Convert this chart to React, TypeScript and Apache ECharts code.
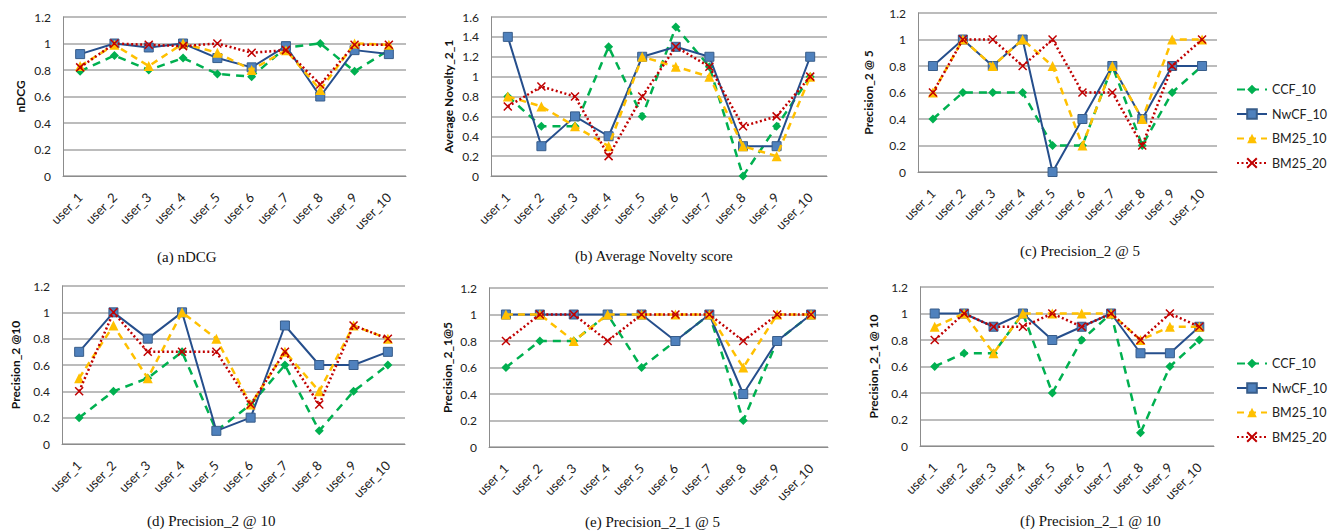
import React, { useEffect, useRef } from "react";
import * as echarts from "echarts";

const categories = ["user_1", "user_2", "user_3", "user_4", "user_5", "user_6", "user_7", "user_8", "user_9", "user_10"];
const seriesNames = ["CCF_10", "NwCF_10", "BM25_10", "BM25_20"];

// (a) nDCG
const ndcgCCF = [0.79, 0.91, 0.8, 0.89, 0.77, 0.75, 0.97, 1.0, 0.79, 0.95];
const ndcgNwCF = [0.92, 1.0, 0.97, 1.0, 0.89, 0.82, 0.98, 0.6, 0.95, 0.92];
const ndcgBM10 = [0.83, 0.99, 0.83, 1.0, 0.93, 0.8, 0.95, 0.65, 1.0, 0.99];
const ndcgBM20 = [0.82, 1.0, 0.99, 0.98, 1.0, 0.93, 0.95, 0.69, 0.99, 0.99];

// (b) Average Novelty
const novCCF = [0.8, 0.5, 0.5, 1.3, 0.6, 1.5, 1.1, 0, 0.5, 1.0];
const novNwCF = [1.4, 0.3, 0.6, 0.4, 1.2, 1.3, 1.2, 0.3, 0.3, 1.2];
const novBM10 = [0.8, 0.7, 0.5, 0.3, 1.2, 1.1, 1.0, 0.3, 0.2, 1.0];
const novBM20 = [0.7, 0.9, 0.8, 0.2, 0.8, 1.3, 1.1, 0.5, 0.6, 1.0];

// (c) Precision_2 @ 5
const p25CCF = [0.4, 0.6, 0.6, 0.6, 0.2, 0.2, 0.8, 0.2, 0.6, 0.8];
const p25NwCF = [0.8, 1.0, 0.8, 1.0, 0, 0.4, 0.8, 0.4, 0.8, 0.8];
const p25BM10 = [0.6, 1.0, 0.8, 1.0, 0.8, 0.2, 0.8, 0.4, 1.0, 1.0];
const p25BM20 = [0.6, 1.0, 1.0, 0.8, 1.0, 0.6, 0.6, 0.2, 0.8, 1.0];

// (d) Precision_2 @ 10
const p210CCF = [0.2, 0.4, 0.5, 0.7, 0.1, 0.3, 0.6, 0.1, 0.4, 0.6];
const p210NwCF = [0.7, 1.0, 0.8, 1.0, 0.1, 0.2, 0.9, 0.6, 0.6, 0.7];
const p210BM10 = [0.5, 0.9, 0.5, 1.0, 0.8, 0.3, 0.7, 0.4, 0.9, 0.8];
const p210BM20 = [0.4, 1.0, 0.7, 0.7, 0.7, 0.3, 0.7, 0.3, 0.9, 0.8];

// (e) Precision_2_1 @ 5
const p215CCF = [0.6, 0.8, 0.8, 1.0, 0.6, 0.8, 1.0, 0.2, 0.8, 1.0];
const p215NwCF = [1.0, 1.0, 1.0, 1.0, 1.0, 0.8, 1.0, 0.4, 0.8, 1.0];
const p215BM10 = [1.0, 1.0, 0.8, 1.0, 1.0, 1.0, 1.0, 0.6, 1.0, 1.0];
const p215BM20 = [0.8, 1.0, 1.0, 0.8, 1.0, 1.0, 1.0, 0.8, 1.0, 1.0];

// (f) Precision_2_1 @ 10
const p2110CCF = [0.6, 0.7, 0.7, 1.0, 0.4, 0.8, 1.0, 0.1, 0.6, 0.8];
const p2110NwCF = [1.0, 1.0, 0.9, 1.0, 0.8, 0.9, 1.0, 0.7, 0.7, 0.9];
const p2110BM10 = [0.9, 1.0, 0.7, 1.0, 1.0, 1.0, 1.0, 0.8, 0.9, 0.9];
const p2110BM20 = [0.8, 1.0, 0.9, 0.9, 1.0, 0.9, 1.0, 0.8, 1.0, 0.9];

const yNames = ["nDCG", "Average Novelty_2_1", "Precision_2 @ 5", "Precision_2 @10", "Precision_2_1@5", "Precision_2_1 @ 10"];
const yMax = [1.2, 1.6, 1.2, 1.2, 1.2, 1.2];
const captions = ["(a) nDCG", "(b) Average Novelty score", "(c) Precision_2 @ 5", "(d) Precision_2 @ 10", "(e) Precision_2_1 @ 5", "(f) Precision_2_1 @ 10"];
const panelData = [
  [ndcgCCF, ndcgNwCF, ndcgBM10, ndcgBM20],
  [novCCF, novNwCF, novBM10, novBM20],
  [p25CCF, p25NwCF, p25BM10, p25BM20],
  [p210CCF, p210NwCF, p210BM10, p210BM20],
  [p215CCF, p215NwCF, p215BM10, p215BM20],
  [p2110CCF, p2110NwCF, p2110BM10, p2110BM20],
];

// layout
const grids = [
  { left: 63, top: 17, width: 343, height: 159 },
  { left: 491, top: 17, width: 336, height: 159 },
  { left: 918, top: 13, width: 299, height: 159 },
  { left: 62, top: 286, width: 343, height: 158 },
  { left: 489, top: 288, width: 339, height: 159 },
  { left: 920, top: 287, width: 294, height: 159 },
];
const nameGaps = [37, 37, 44, 41, 36, 41];
const captionPos = [
  [157, 258],
  [575, 257],
  [1020, 252],
  [147, 522],
  [585, 523],
  [1020, 522],
];

const SANS = "Lato, 'Liberation Sans', sans-serif";
const SERIF = "'Liberation Serif', 'DejaVu Serif', serif";
const XPATH = "path://M0,0 L10,10 M10,0 L0,10";

const styles = [
  {
    line: { color: "#00B050", width: 2.5, type: [8, 6] },
    symbol: "diamond",
    symbolSize: 9,
    item: { color: "#00B050", borderColor: "#00B050", borderWidth: 0 },
  },
  {
    line: { color: "#254E8C", width: 2, type: "solid" },
    symbol: "rect",
    symbolSize: 9,
    item: { color: "#4F81BD", borderColor: "#385D8A", borderWidth: 1 },
  },
  {
    line: { color: "#FFC000", width: 2.5, type: [7, 5] },
    symbol: "triangle",
    symbolSize: 10,
    item: { color: "#FFC000", borderColor: "#FFC000", borderWidth: 0 },
  },
  {
    line: { color: "#C00000", width: 2.5, type: [2, 2.5], cap: "butt" },
    symbol: XPATH,
    symbolSize: 8,
    item: { color: "#C00000", borderColor: "#C00000", borderWidth: 1.5 },
  },
];

export default function App() {
  const ref = useRef<HTMLDivElement>(null);
  useEffect(() => {
    document.body.style.margin = "0";
    if (!ref.current) return;
    const chart = echarts.init(ref.current, null, { renderer: "svg" });

    const xAxis: any[] = [];
    const yAxis: any[] = [];
    const series: any[] = [];
    grids.forEach((g, i) => {
      xAxis.push({
        type: "category",
        gridIndex: i,
        data: categories,
        boundaryGap: true,
        axisLine: { show: true, lineStyle: { color: "#8c8c8c", width: 1 } },
        axisTick: { show: false },
        axisLabel: {
          rotate: 45,
          interval: 0,
          margin: 19,
          fontSize: 13,
          fontFamily: SANS,
          color: "#222",
        },
      });
      yAxis.push({
        type: "value",
        gridIndex: i,
        min: 0,
        max: yMax[i],
        interval: 0.2,
        name: yNames[i],
        nameLocation: "middle",
        nameGap: nameGaps[i],
        nameTextStyle: { fontSize: 12, fontWeight: "bold", fontFamily: SANS, color: "#111" },
        axisLine: { show: true, lineStyle: { color: "#8c8c8c", width: 1 } },
        axisTick: { show: false },
        axisLabel: { fontSize: 12, fontFamily: SANS, color: "#222", margin: 12 },
        splitLine: { show: true, lineStyle: { color: "#a6a6a6", width: 1.5 } },
      });
      panelData[i].forEach((vals, s) => {
        const st = styles[s];
        series.push({
          type: "line",
          name: seriesNames[s],
          xAxisIndex: i,
          yAxisIndex: i,
          data: vals,
          symbol: st.symbol,
          symbolSize: st.symbolSize,
          showAllSymbol: true,
          lineStyle: st.line,
          itemStyle: st.item,
          z: 2 + s,
        });
      });
    });

    const legendBase = {
      orient: "vertical",
      left: 1231,
      itemWidth: 30,
      itemHeight: 12,
      itemGap: 11.5,
      data: seriesNames,
      textStyle: { fontSize: 12.5, fontFamily: SANS, color: "#222" },
    };

    chart.setOption({
      animation: false,
      backgroundColor: "#ffffff",
      grid: grids.map((g) => ({ ...g, containLabel: false })),
      xAxis,
      yAxis,
      series,
      legend: [
        { ...legendBase, top: 78 },
        { ...legendBase, top: 352 },
      ],
      graphic: captions.map((c, i) => ({
        type: "text",
        left: captionPos[i][0],
        top: captionPos[i][1] - 9,
        style: { text: c, fontSize: 15, fontFamily: SERIF, fill: "#111" },
      })),
    });
    return () => chart.dispose();
  }, []);
  return <div ref={ref} style={{ width: 1330, height: 531 }} />;
}
